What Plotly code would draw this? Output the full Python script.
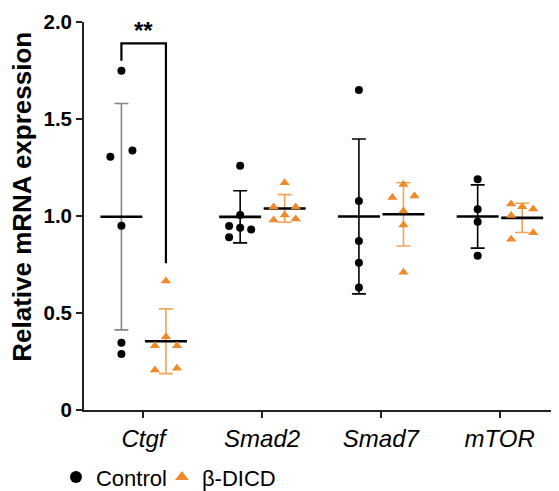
import numpy as np
import plotly.graph_objects as go

# ---------------- data ----------------
genes = ["Ctgf", "Smad2", "Smad7", "mTOR"]
groups = ["Control", "β-DICD"]

control_ctgf = [1.749, 1.306, 1.337, 0.950, 0.347, 0.289]
control_smad2 = [1.259, 1.005, 0.948, 0.940, 0.931, 0.890]
control_smad7 = [1.649, 1.077, 0.871, 0.759, 0.632]
control_mtor = [1.189, 1.035, 0.971, 0.795]

bdicd_ctgf = [0.665, 0.378, 0.331, 0.331, 0.206, 0.215]
bdicd_smad2 = [1.172, 1.046, 1.046, 0.979, 1.005, 0.985]
bdicd_smad7 = [1.163, 1.096, 1.103, 1.026, 0.954, 0.710]
bdicd_mtor = [1.062, 1.048, 1.036, 1.002, 0.914, 0.880]

y_tick_vals = [0, 0.5, 1.0, 1.5, 2.0]
y_tick_text = ["0", "0.5", "1.0", "1.5", "2.0"]

# horizontal scatter slots (layout only, -1/0/+1)
slots_control = [[0, -1, 1, 0, 0, 0], [0, 0, -1, 0, 1, -1], [0, 0, 0, 0, 0], [0, 0, 0, 0]]
slots_bdicd = [[0, 0, -1, 1, -1, 1], [0, -1, 1, -1, 0, 1], [0, -1, 1, 0, 0, 0], [-1, 0, 1, -1, 1, -1]]

control_vals = [control_ctgf, control_smad2, control_smad7, control_mtor]
bdicd_vals = [bdicd_ctgf, bdicd_smad2, bdicd_smad7, bdicd_mtor]

# ---------------- style ----------------
FONT = "Arial, Liberation Sans, Helvetica, sans-serif"
ORANGE = "#F0892A"
ORANGE_ERR = "#F3A35A"
GROUP_OFFSET = {"Control": -0.185, "β-DICD": 0.19}
SLOT_W = 0.093

fig = go.Figure()

series = [
    ("Control", control_vals, slots_control, "circle", "black", 8, "legend"),
    ("β-DICD", bdicd_vals, slots_bdicd, "triangle-up", ORANGE, 9, "legend2"),
]

for name, vals_all, slots_all, symbol, color, msize, leg in series:
    xs, ys = [], []
    for gi, (vals, slots) in enumerate(zip(vals_all, slots_all)):
        for v, s in zip(vals, slots):
            xs.append(gi + GROUP_OFFSET[name] + s * SLOT_W)
            ys.append(v)
    for gi, vals in enumerate(vals_all):
        arr = np.array(vals)
        m = arr.mean()
        sd = arr.std(ddof=1)
        if name == "Control":
            ecol = "#858585" if gi == 0 else "black"
        else:
            ecol = ORANGE_ERR
        fig.add_trace(go.Scatter(
            x=[gi + GROUP_OFFSET[name]], y=[m], mode="markers",
            marker=dict(symbol="line-ew", size=30, line=dict(width=2.6, color="black"), color="black"),
            error_y=dict(type="data", array=[sd], visible=True, color=ecol, thickness=1.6, width=7),
            showlegend=False, hoverinfo="skip"))
    fig.add_trace(go.Scatter(
        x=xs, y=ys, mode="markers", name=name, legend=leg,
        marker=dict(symbol=symbol, size=msize, color=color, line=dict(width=0))))

# significance bracket
bx0 = 0 + GROUP_OFFSET["Control"]
bx1 = 0 + GROUP_OFFSET["β-DICD"]
btop = 1.89
fig.add_shape(type="path",
              path=f"M {bx0} 1.80 L {bx0} {btop} L {bx1} {btop} L {bx1} 0.757",
              line=dict(color="black", width=2.2), xref="x", yref="y")
fig.add_annotation(x=(bx0 + bx1) / 2, y=btop, yanchor="bottom", yshift=-3,
                   text="<b>**</b>", showarrow=False,
                   font=dict(family=FONT, size=24, color="black"))

# y-axis title (as annotation to match its off-centre placement)
fig.add_annotation(xref="paper", yref="paper", x=-0.131, y=0.549,
                   xanchor="center", yanchor="middle", textangle=-90,
                   text="<b>Relative mRNA expression</b>", showarrow=False,
                   font=dict(family=FONT, size=26, color="black"))

legend_common = dict(orientation="h", xanchor="left", y=-0.173, yanchor="middle",
                     font=dict(size=22, family=FONT, color="black"),
                     itemsizing="constant", itemwidth=30, bgcolor="rgba(0,0,0,0)")

# page body has an 8px margin, so the figure is 8px smaller than the window
fig.update_layout(
    width=551, height=483,
    margin=dict(l=76, r=0, t=14, b=81, autoexpand=False),
    paper_bgcolor="white", plot_bgcolor="white",
    font=dict(family=FONT, color="black"),
    legend=dict(x=-0.059, **legend_common),
    legend2=dict(x=0.164, **legend_common),
)

fig.update_xaxes(
    range=[-0.5, 3.5], tickvals=list(range(len(genes))), ticktext=genes,
    showline=True, linecolor="#222", linewidth=1.8, ticks="outside", ticklen=6,
    tickwidth=1.8, tickcolor="#222", showgrid=False, zeroline=False, automargin=False,
    tickfont=dict(family=FONT, size=24, style="italic", color="black"),
)
fig.update_yaxes(
    range=[0, 2.0], tickvals=y_tick_vals, ticktext=y_tick_text,
    showline=True, linecolor="#222", linewidth=1.8, ticks="outside", ticklen=6,
    tickwidth=1.8, tickcolor="#222", showgrid=False, zeroline=False, automargin=False,
    tickfont=dict(family=FONT, size=20.5, weight="bold", color="black"),
)

fig.write_html("out.html")
